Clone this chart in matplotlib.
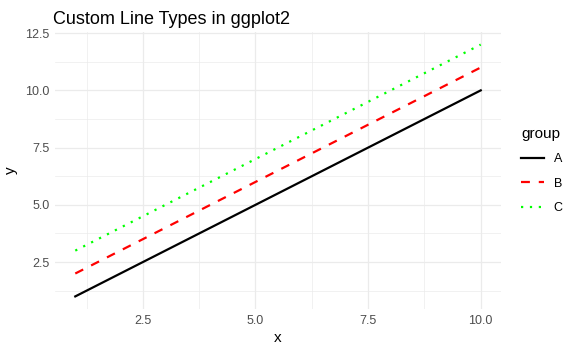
import matplotlib.pyplot as plt

# data: three groups, y rising with x
x = [1, 2, 3, 4, 5, 6, 7, 8, 9, 10]
y_a = [1, 2, 3, 4, 5, 6, 7, 8, 9, 10]
y_b = [2, 3, 4, 5, 6, 7, 8, 9, 10, 11]
y_c = [3, 4, 5, 6, 7, 8, 9, 10, 11, 12]
groups = ['A', 'B', 'C']

plt.rcParams['font.family'] = ['Liberation Sans', 'DejaVu Sans']

fig = plt.figure(figsize=(5.77, 3.54), dpi=100)
ax = fig.add_axes([55 / 577, 1 - 309 / 354, 446 / 577, 277 / 354])

ax.plot(x, y_a, color='black', lw=1.6, linestyle='-', label=groups[0])
ax.plot(x, y_b, color='#FF0000', lw=1.6, linestyle=(0, (4, 4)), label=groups[1])
ax.plot(x, y_c, color='#00FF00', lw=1.6, linestyle=(0, (1, 3)), label=groups[2])

ax.set_xlim(0.55, 10.45)
ax.set_ylim(0.45, 12.55)
ax.set_xticks([2.5, 5.0, 7.5, 10.0])
ax.set_yticks([2.5, 5.0, 7.5, 10.0, 12.5])
ax.set_xticks([1.25, 3.75, 6.25, 8.75], minor=True)
ax.set_yticks([1.25, 3.75, 6.25, 8.75, 11.25], minor=True)
ax.grid(True, which='major', color='#EBEBEB', lw=0.9)
ax.grid(True, which='minor', color='#EBEBEB', lw=0.5)
ax.set_axisbelow(True)
for s in ax.spines.values():
    s.set_visible(False)
ax.tick_params(which='both', length=0, labelsize=9, labelcolor='#4D4D4D', pad=4)

ax.set_xlabel('x', fontsize=11, labelpad=3)
ax.set_ylabel('y', fontsize=11, labelpad=5)
ax.set_title('Custom Line Types in ggplot2', fontsize=13, loc='left', x=-0.005, pad=6)

leg = ax.legend(title='group', loc='center left', bbox_to_anchor=(1.02, 0.5),
                frameon=False, fontsize=9, title_fontsize=11,
                handlelength=1.8, labelspacing=1.0, alignment='left')

plt.savefig('out.png', dpi=100)
